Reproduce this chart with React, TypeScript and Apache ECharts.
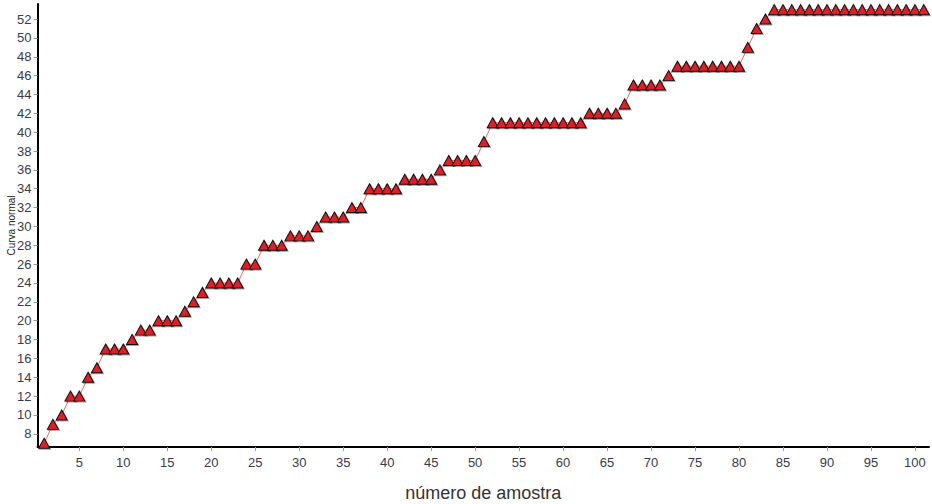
import React, { useEffect, useRef } from "react";
import * as echarts from "echarts";

const sampleNumbers: number[] = Array.from({ length: 101 }, (_, i) => i + 1);
const normalCurve: number[] = [
  7, 9, 10, 12, 12, 14, 15, 17, 17, 17,
  18, 19, 19, 20, 20, 20, 21, 22, 23, 24,
  24, 24, 24, 26, 26, 28, 28, 28, 29, 29,
  29, 30, 31, 31, 31, 32, 32, 34, 34, 34,
  34, 35, 35, 35, 35, 36, 37, 37, 37, 37,
  39, 41, 41, 41, 41, 41, 41, 41, 41, 41,
  41, 41, 42, 42, 42, 42, 43, 45, 45, 45,
  45, 46, 47, 47, 47, 47, 47, 47, 47, 47,
  49, 51, 52, 53, 53, 53, 53, 53, 53, 53,
  53, 53, 53, 53, 53, 53, 53, 53, 53, 53,
  53,
];
const yTicks: number[] = [8, 10, 12, 14, 16, 18, 20, 22, 24, 26, 28, 30, 32, 34, 36, 38, 40, 42, 44, 46, 48, 50, 52];
const xTicks: number[] = [5, 10, 15, 20, 25, 30, 35, 40, 45, 50, 55, 60, 65, 70, 75, 80, 85, 90, 95, 100];

export default function App() {
  const ref = useRef<HTMLDivElement>(null);
  useEffect(() => {
    if (!ref.current) return;
    const chart = echarts.init(ref.current, null, { renderer: "svg" });
    const font = "Liberation Sans, Arial, sans-serif";
    chart.setOption({
      animation: false,
      backgroundColor: "#ffffff",
      grid: { left: 37.5, right: 3, top: 4, bottom: 57, containLabel: false, outerBoundsMode: "none" },
      xAxis: {
        type: "value",
        min: 0.25,
        max: 101.6,
        name: "número de amostra",
        nameLocation: "middle",
        nameGap: 37,
        nameMoveOverlap: false,
        nameTextStyle: { fontFamily: font, fontSize: 18, color: "#333333" },
        axisLine: { show: true, onZero: false, lineStyle: { color: "#000000", width: 2 } },
        axisTick: { show: true, length: 4, lineStyle: { color: "#999999" }, customValues: xTicks },
        axisLabel: { fontFamily: font, fontSize: 13, color: "#3a3a4a", margin: 9, customValues: xTicks },
        splitLine: { show: false },
      },
      yAxis: {
        type: "value",
        min: 6.6,
        max: 53.6,
        name: "Curva normal",
        nameLocation: "middle",
        nameGap: 21,
        nameMoveOverlap: false,
        nameRotate: 90,
        nameTextStyle: { fontFamily: font, fontSize: 10, color: "#222222" },
        axisLine: { show: true, onZero: false, lineStyle: { color: "#000000", width: 2 } },
        axisTick: { show: true, length: 4, lineStyle: { color: "#999999" }, customValues: yTicks },
        axisLabel: { fontFamily: font, fontSize: 13, color: "#3a3a4a", margin: 6, customValues: yTicks },
        splitLine: { show: false },
      },
      series: [
        {
          type: "line",
          data: sampleNumbers.map((x, i) => [x, normalCurve[i]]),
          symbol: "triangle",
          symbolSize: [11, 10],
          lineStyle: { color: "#f06a6a", width: 1 },
          itemStyle: {
            color: "#e31f26",
            borderColor: "#111111",
            borderWidth: 1,
            shadowColor: "rgba(0,0,0,0.35)",
            shadowOffsetX: 1,
            shadowOffsetY: 1,
            shadowBlur: 0,
          },
          showAllSymbol: true,
        },
      ],
    });
    return () => chart.dispose();
  }, []);
  return <div ref={ref} style={{ position: "fixed", left: 0, top: 0, width: 932, height: 504 }} />;
}
